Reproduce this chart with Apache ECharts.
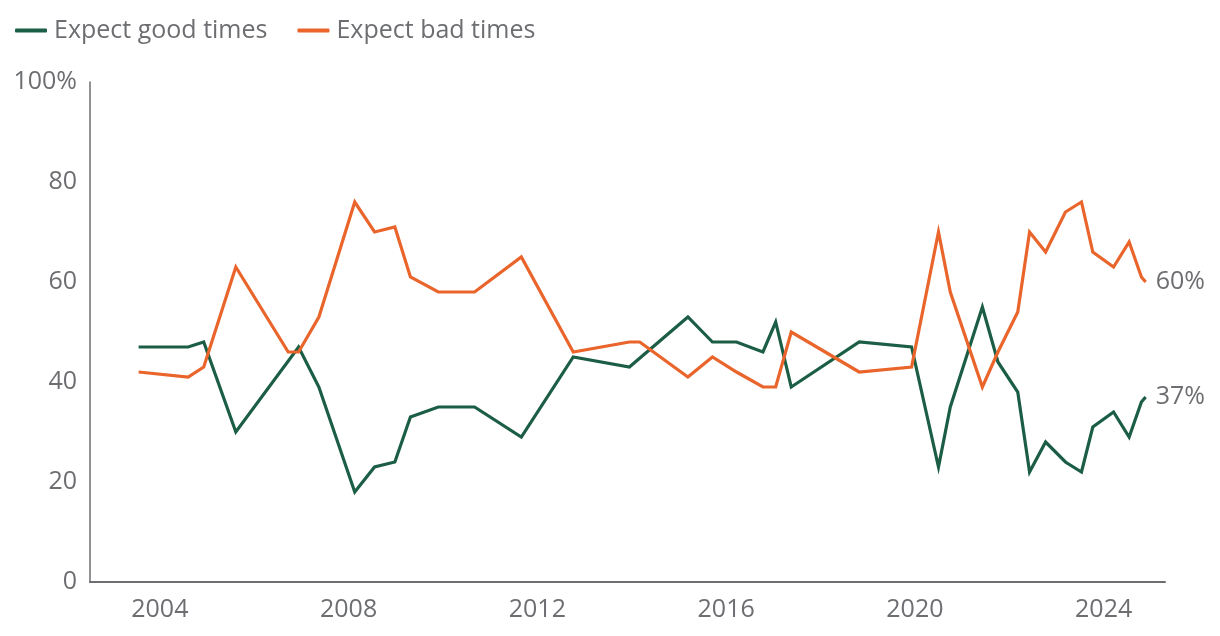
<!DOCTYPE html>
<html>
<head>
<meta charset="utf-8">
<script src="https://cdn.jsdelivr.net/npm/echarts@6/dist/echarts.min.js"></script>
<style>
html,body{margin:0;padding:0;background:#fff;}
#chart{width:1220px;height:636px;}
</style>
</head>
<body>
<div id="chart"></div>
<script>
// Survey dates as decimal years
var dates = [2003.55, 2004.6, 2004.93, 2005.61, 2006.72, 2006.94, 2007.37, 2008.13, 2008.55, 2008.98,
  2009.31, 2009.9, 2010.67, 2011.66, 2012.76, 2013.95, 2014.17, 2015.19, 2015.71, 2016.22,
  2016.78, 2017.05, 2017.38, 2018.82, 2019.93, 2020.5, 2020.75, 2021.43, 2021.76, 2022.18,
  2022.43, 2022.77, 2023.19, 2023.53, 2023.77, 2024.21, 2024.54, 2024.8, 2024.89];
var goodTimes = [47, 47, 48, 30, null, 47, 39, 18, 23, 24,
  33, 35, 35, 29, 45, 43, null, 53, 48, 48,
  46, 52, 39, 48, 47, 23, 35, 55, 44, 38,
  22, 28, 24, 22, 31, 34, 29, 36, 37];
var badTimes = [42, 41, 43, 63, 46, 46, 53, 76, 70, 71,
  61, 58, 58, 65, 46, 48, 48, 41, 45, 42,
  39, 39, 50, 42, 43, 70, 58, 39, 46, 54,
  70, 66, 74, 76, 66, 63, 68, 61, 60];
var xTicks = [2004, 2008, 2012, 2016, 2020, 2024];
var seriesNames = ['Expect good times', 'Expect bad times'];

var GREEN = '#1b5e45';
var ORANGE = '#e9652b';
var TEXT = '#6d6e71';
var FONT = '"Open Sans", Lato, sans-serif';

function pairs(vals) {
  return dates.map(function (d, i) { return [d, vals[i]]; });
}

var chart = echarts.init(document.getElementById('chart'), null, {renderer: 'canvas'});
chart.setOption({
  animation: false,
  textStyle: {fontFamily: FONT},
  legend: {
    left: 10, top: 13,
    itemWidth: 32, itemHeight: 4, itemGap: 30,
    icon: 'roundRect',
    textStyle: {fontSize: 25, color: TEXT, fontFamily: FONT, padding: [0, 0, 0, 2]},
    data: seriesNames
  },
  grid: {left: 90, right: 55, top: 82, bottom: 54},
  xAxis: {
    type: 'value',
    min: 2002.52, max: 2025.3,
    axisLine: {show: true, lineStyle: {color: TEXT, width: 2}},
    axisTick: {show: false},
    splitLine: {show: false},
    axisLabel: {
      customValues: xTicks,
      color: TEXT, fontSize: 25, fontFamily: FONT, margin: 15,
      formatter: function (v) { return String(v); }
    }
  },
  yAxis: {
    type: 'value',
    min: 0, max: 100, interval: 20,
    axisLine: {show: true, lineStyle: {color: TEXT, width: 1.5}},
    axisTick: {show: false},
    splitLine: {show: false},
    axisLabel: {
      color: TEXT, fontSize: 25, fontFamily: FONT, margin: 13,
      formatter: function (v) { return v === 100 ? '100%' : String(v); }
    }
  },
  series: [
    {
      name: seriesNames[0], type: 'line', data: pairs(goodTimes),
      connectNulls: true, showSymbol: false, symbol: 'none',
      lineStyle: {color: GREEN, width: 3.2, join: 'miter'},
      itemStyle: {color: GREEN},
      endLabel: {show: true, formatter: function (p) { return p.value[1] + '%'; },
        color: TEXT, fontSize: 25, fontFamily: FONT, distance: 10}
    },
    {
      name: seriesNames[1], type: 'line', data: pairs(badTimes),
      connectNulls: true, showSymbol: false, symbol: 'none',
      lineStyle: {color: ORANGE, width: 3.2, join: 'miter'},
      itemStyle: {color: ORANGE},
      endLabel: {show: true, formatter: function (p) { return p.value[1] + '%'; },
        color: TEXT, fontSize: 25, fontFamily: FONT, distance: 10}
    }
  ]
});
</script>
</body>
</html>
